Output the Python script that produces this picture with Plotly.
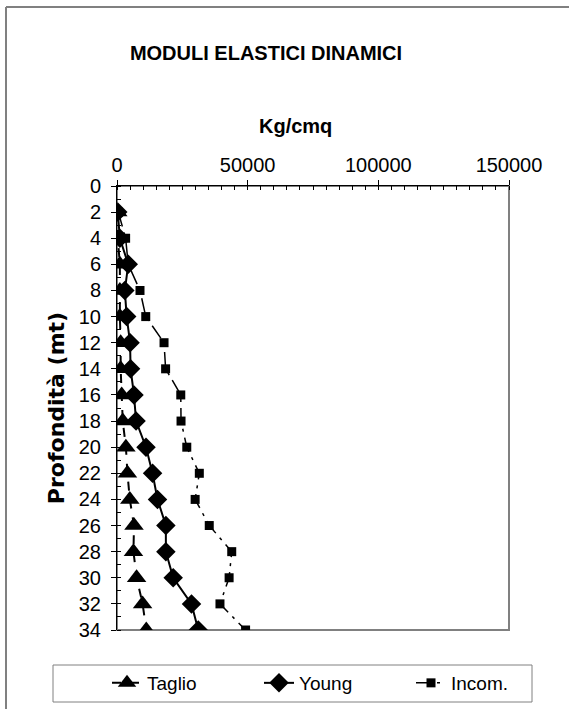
import plotly.graph_objects as go

depth = [2, 4, 6, 8, 10, 12, 14, 16, 18, 20, 22, 24, 26, 28, 30, 32, 34]
taglio = [300, 300, 1100, 1100, 1100, 1400, 1400, 1800, 2200, 3400, 4000, 4900, 6500, 6300, 7500, 9800, 11200]
young = [300, 1100, 4300, 3000, 3700, 5000, 5200, 6500, 7300, 11100, 13600, 15500, 18700, 18700, 21500, 28500, 31100]
incom = [500, 3300, 4300, 8800, 11000, 18000, 18600, 24400, 24500, 26700, 31500, 29900, 35300, 43900, 42900, 39400, 49200]

x_ticks = [0, 50000, 100000, 150000]
y_ticks = list(range(0, 35, 2))

FONT = "Liberation Sans, Arial, sans-serif"

fig = go.Figure()
fig.add_trace(go.Scatter(x=taglio, y=depth, name="Taglio", mode="lines+markers",
                         line=dict(color="black", width=2, dash="dash"),
                         marker=dict(symbol="triangle-up", size=17, color="black")))
fig.add_trace(go.Scatter(x=young, y=depth, name="Young", mode="lines+markers",
                         line=dict(color="black", width=2),
                         marker=dict(symbol="diamond", size=15, color="black")))
fig.add_trace(go.Scatter(x=incom, y=depth, name="Incom.", mode="lines+markers",
                         line=dict(color="black", width=1.5, dash="longdashdot"),
                         marker=dict(symbol="square", size=9, color="black")))

L, R, T, B = 117, 60, 186, 79
W, H = 569, 709
pw, ph = W - L - R, H - T - B

def px(xp):
    return (xp - L) / pw

def py(yp):
    return (H - B - yp) / ph

shapes = [
    dict(type="rect", xref="paper", yref="paper", x0=0, x1=1, y0=0, y1=1,
         line=dict(color="#808080", width=2), layer="below"),
    dict(type="line", xref="paper", yref="paper", x0=px(6), x1=px(575), y0=py(7), y1=py(7),
         line=dict(color="#808080", width=2)),
    dict(type="line", xref="paper", yref="paper", x0=px(6), x1=px(6), y0=py(7), y1=py(715),
         line=dict(color="#808080", width=2)),
    dict(type="rect", xref="paper", yref="paper", x0=px(53), x1=px(532), y0=py(665), y1=py(702),
         line=dict(color="#808080", width=1)),
]

annotations = [
    dict(text="<b>Kg/cmq</b>", xref="paper", yref="paper", x=px(295), y=py(126),
         xanchor="center", yanchor="middle", showarrow=False, font=dict(size=20)),
]

fig.update_layout(
    width=W, height=H,
    margin=dict(l=L, r=R, t=T, b=B, autoexpand=False),
    paper_bgcolor="white", plot_bgcolor="white",
    font=dict(family=FONT, color="black", size=20),
    title=dict(text="<b>MODULI ELASTICI DINAMICI</b>", x=266 / W, xanchor="center",
               y=1 - 53 / H, yanchor="middle", font=dict(size=20)),
    showlegend=True,
    legend=dict(orientation="h", x=px(107), xanchor="left", y=py(664), yanchor="top",
                entrywidth=107, entrywidthmode="pixels", font=dict(size=19),
                bgcolor="rgba(0,0,0,0)", borderwidth=0, itemclick=False),
    shapes=shapes,
    annotations=annotations,
)
fig.update_xaxes(side="top", range=[0, 150000], tickvals=x_ticks, ticktext=[str(v) for v in x_ticks],
                 showgrid=False, zeroline=False, showline=True, linecolor="black", linewidth=1,
                 ticks="outside", ticklen=5, tickcolor="black", automargin=False,
                 minor=dict(dtick=5000, ticks="inside", ticklen=4, tickcolor="black", showgrid=False))
fig.update_yaxes(range=[34, 0], tickvals=y_ticks, ticktext=[str(v) for v in y_ticks],
                 showgrid=False, zeroline=False, showline=True, linecolor="black", linewidth=1,
                 ticks="outside", ticklen=5, tickcolor="black", automargin=False,
                 ticklabelstandoff=6,
                 minor=dict(dtick=1, ticks="inside", ticklen=4, tickcolor="black", showgrid=False),
                 title=dict(text="<b>Profondità (mt)</b>",
                            font=dict(size=22, family="DejaVu Sans, sans-serif"), standoff=8))

fig.write_html("out.html", config={"displayModeBar": False},
               post_script="document.body.style.margin='0';")
